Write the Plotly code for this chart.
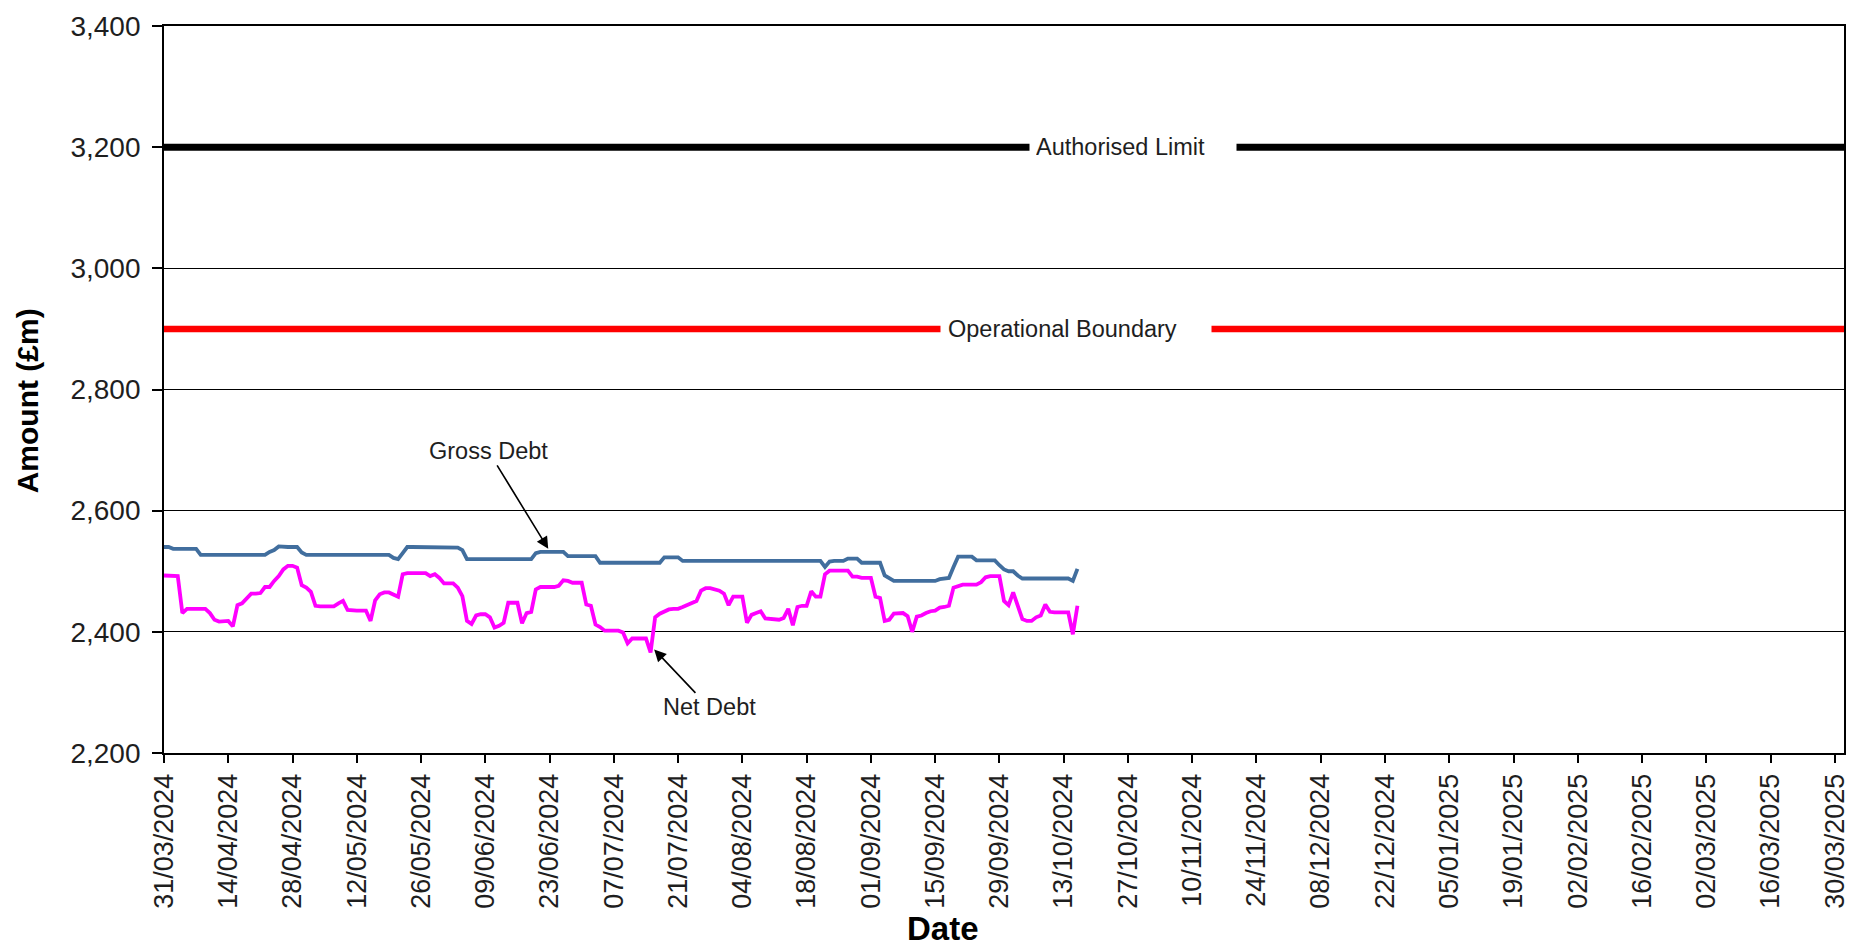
import pandas as pd
import plotly.graph_objects as go

# Daily debt position (£m) from 31/03/2024
start_date = "2024-03-31"
gross_debt = [
    2540, 2540, 2537, 2537, 2537, 2537, 2537, 2537, 2527, 2527,
    2527, 2527, 2527, 2527, 2527, 2527, 2527, 2527, 2527, 2527,
    2527, 2527, 2527, 2532, 2535, 2541, 2540, 2540, 2540, 2540,
    2531, 2527, 2527, 2527, 2527, 2527, 2527, 2527, 2527, 2527,
    2527, 2527, 2527, 2527, 2527, 2527, 2527, 2527, 2527, 2527,
    2522, 2520, 2530, 2540, 2540, 2540, 2540, 2540, 2540, 2540,
    2540, 2540, 2540, 2540, 2539, 2535, 2520, 2520, 2520, 2520,
    2520, 2520, 2520, 2520, 2520, 2520, 2520, 2520, 2520, 2520,
    2520, 2530, 2532, 2532, 2532, 2532, 2532, 2532, 2525, 2525,
    2525, 2525, 2525, 2525, 2525, 2514, 2514, 2514, 2514, 2514,
    2514, 2514, 2514, 2514, 2514, 2514, 2514, 2514, 2514, 2523,
    2523, 2523, 2523, 2517, 2517, 2517, 2517, 2517, 2517, 2517,
    2517, 2517, 2517, 2517, 2517, 2517, 2517, 2517, 2517, 2517,
    2517, 2517, 2517, 2517, 2517, 2517, 2517, 2517, 2517, 2517,
    2517, 2517, 2517, 2517, 2507, 2516, 2517, 2517, 2517, 2521,
    2521, 2521, 2514, 2514, 2514, 2514, 2514, 2493, 2489, 2484,
    2484, 2484, 2484, 2484, 2484, 2484, 2484, 2484, 2484, 2487,
    2488, 2489, 2507, 2524, 2524, 2524, 2524, 2518, 2518, 2518,
    2518, 2518, 2510, 2503, 2500, 2500, 2493, 2488, 2488, 2488,
    2488, 2488, 2488, 2488, 2488, 2488, 2488, 2488, 2484, 2504,
]
net_debt = [
    2493, 2493, 2493, 2492, 2431, 2438, 2438, 2438, 2438, 2438,
    2431, 2420, 2417, 2418, 2418, 2409, 2444, 2447, 2455, 2463,
    2463, 2464, 2474, 2474, 2484, 2492, 2503, 2509, 2509, 2506,
    2477, 2473, 2466, 2443, 2442, 2442, 2442, 2442, 2447, 2451,
    2436, 2435, 2435, 2435, 2435, 2418, 2452, 2462, 2465, 2465,
    2462, 2458, 2495, 2497, 2497, 2497, 2497, 2497, 2492, 2495,
    2489, 2480, 2480, 2480, 2473, 2459, 2418, 2413, 2427, 2429,
    2429, 2424, 2407, 2410, 2415, 2448, 2448, 2448, 2414, 2431,
    2433, 2470, 2474, 2474, 2474, 2474, 2476, 2485, 2484, 2481,
    2481, 2481, 2445, 2443, 2412, 2408, 2402, 2402, 2402, 2402,
    2399, 2381, 2389, 2389, 2389, 2389, 2366, 2424, 2430, 2433,
    2437, 2438, 2438, 2441, 2444, 2447, 2451, 2468, 2472, 2472,
    2470, 2468, 2463, 2444, 2458, 2458, 2458, 2415, 2428, 2431,
    2434, 2422, 2421, 2420, 2420, 2423, 2438, 2411, 2441, 2443,
    2443, 2467, 2458, 2458, 2495, 2501, 2501, 2501, 2501, 2501,
    2491, 2491, 2489, 2489, 2489, 2458, 2456, 2418, 2420, 2430,
    2431, 2431, 2426, 2400, 2425, 2427, 2431, 2434, 2435, 2440,
    2441, 2443, 2473, 2476, 2478, 2478, 2478, 2478, 2482, 2490,
    2492, 2492, 2492, 2451, 2444, 2465, 2443, 2421, 2418, 2418,
    2424, 2427, 2445, 2433, 2432, 2432, 2432, 2432, 2396, 2443,
]

# Prudential indicators (£m), constant over the year
authorised_limit = 3200
operational_boundary = 2900
year_span = ["2024-03-31", "2025-04-01"]

dates = pd.date_range(start_date, periods=len(gross_debt), freq="D")

FONT = "Liberation Sans, Arial, sans-serif"
TXT = "#1e1e1e"

fig = go.Figure()
fig.add_trace(go.Scatter(x=year_span, y=[authorised_limit] * 2, mode="lines",
                         line=dict(color="#000000", width=7), hoverinfo="skip"))
fig.add_trace(go.Scatter(x=year_span, y=[operational_boundary] * 2, mode="lines",
                         line=dict(color="#FF0000", width=6.5), hoverinfo="skip"))
fig.add_trace(go.Scatter(x=dates, y=gross_debt, mode="lines", name="Gross Debt",
                         line=dict(color="#416E9E", width=3.8)))
fig.add_trace(go.Scatter(x=dates, y=net_debt, mode="lines", name="Net Debt",
                         line=dict(color="#FF00FF", width=3.8)))

annotations = [
    # limit labels sit on a white box that breaks the line
    dict(text="Authorised Limit", xref="paper", x=0.5147, xanchor="left",
         yref="y", y=authorised_limit, yanchor="middle", showarrow=False,
         bgcolor="white", borderpad=6, width=194, align="left",
         font=dict(family=FONT, size=23.5, color=TXT)),
    dict(text="Operational Boundary", xref="paper", x=0.4618, xanchor="left",
         yref="y", y=operational_boundary, yanchor="middle", showarrow=False,
         bgcolor="white", borderpad=7, width=256, align="left",
         font=dict(family=FONT, size=23.5, color=TXT)),
    dict(text="Gross Debt", x="2024-06-22 17:00", y=2537, xref="x", yref="y",
         ax=-60, ay=-98, showarrow=True, arrowhead=2, arrowsize=1.5,
         arrowwidth=1.6, arrowcolor="#000000",
         font=dict(family=FONT, size=23.5, color=TXT)),
    dict(text="Net Debt", x="2024-07-15 19:00", y=2371, xref="x", yref="y",
         ax=55, ay=58, showarrow=True, arrowhead=2, arrowsize=1.5,
         arrowwidth=1.6, arrowcolor="#000000",
         font=dict(family=FONT, size=23.5, color=TXT)),
    # axis titles
    dict(text="<b>Amount (£m)</b>", xref="paper", yref="paper", x=-0.0813, y=0.4843,
         xanchor="center", yanchor="middle", textangle=-90, showarrow=False,
         font=dict(family=FONT, size=30, color="#000000")),
    dict(text="<b>Date</b>", xref="paper", yref="paper", x=0.4638, y=-0.2408,
         xanchor="center", yanchor="middle", showarrow=False,
         font=dict(family=FONT, size=33, color="#000000")),
]

fig.update_layout(
    width=1861, height=950,
    margin=dict(l=164, r=11, t=22, b=197),
    paper_bgcolor="white", plot_bgcolor="white",
    showlegend=False, hovermode=False,
    annotations=annotations,
    xaxis=dict(
        type="date", range=year_span,
        tick0="2024-03-31", dtick=14 * 86400000, tickformat="%d/%m/%Y",
        tickangle=-90, ticks="outside", ticklen=8, tickwidth=1.5, tickcolor="#000000",
        showline=True, linecolor="#000000", linewidth=1.8, mirror=True,
        showgrid=False, zeroline=False,
        tickfont=dict(family=FONT, size=27, color=TXT),
    ),
    yaxis=dict(
        range=[2200, 3400], dtick=200, tickformat=",",
        ticks="outside", ticklen=10, tickwidth=1.5, tickcolor="#000000",
        showline=True, linecolor="#000000", linewidth=1.8, mirror=True,
        showgrid=True, gridcolor="#000000", gridwidth=1.3, zeroline=False,
        tickfont=dict(family=FONT, size=28, color=TXT),
        ticklabelstandoff=6,
    ),
)

fig.write_html("out.html")
